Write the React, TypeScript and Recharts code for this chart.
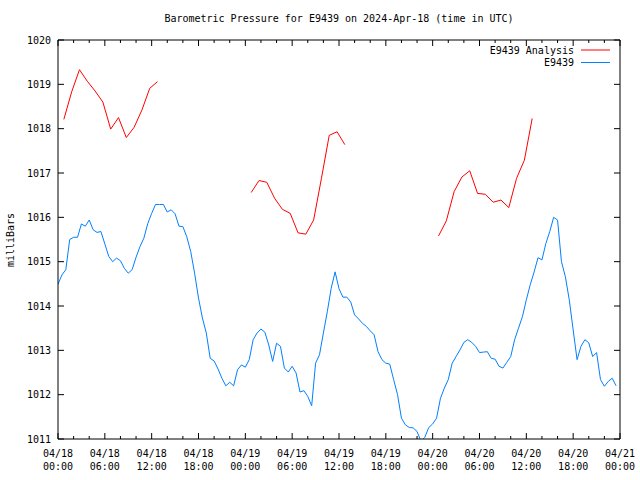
import React from "react";
import { LineChart, Line, XAxis, YAxis, Legend } from "recharts";

const FONT = "'DejaVu Sans Mono', monospace";
const RED = "#ff0000";
const BLUE = "#0080ff";

// observed pressure (mbar), every 30 min starting 04/18 00:00 UTC
const obsStepHours = 0.5;
const obsPressure = [
  1014.49, 1014.7, 1014.82, 1015.5, 1015.55, 1015.55, 1015.85, 1015.8, 1015.94, 1015.72,
  1015.66, 1015.68, 1015.4, 1015.12, 1015.0, 1015.08, 1015.02, 1014.85, 1014.74, 1014.82,
  1015.1, 1015.34, 1015.53, 1015.86, 1016.09, 1016.29, 1016.29, 1016.29, 1016.12, 1016.17,
  1016.08, 1015.8, 1015.79, 1015.56, 1015.23, 1014.74, 1014.18, 1013.73, 1013.39, 1012.82,
  1012.76, 1012.58, 1012.37, 1012.2, 1012.28, 1012.2, 1012.56, 1012.67, 1012.62, 1012.79,
  1013.24, 1013.39, 1013.48, 1013.41, 1013.12, 1012.75, 1013.16, 1013.09, 1012.6, 1012.51,
  1012.64, 1012.49, 1012.06, 1012.09, 1011.96, 1011.75, 1012.71, 1012.9, 1013.39, 1013.87,
  1014.4, 1014.77, 1014.39, 1014.2, 1014.2, 1014.09, 1013.8, 1013.71, 1013.61, 1013.54,
  1013.44, 1013.35, 1012.97, 1012.79, 1012.71, 1012.69, 1012.34, 1012.0, 1011.47, 1011.32,
  1011.26, 1011.25, 1011.17, 1010.95, 1011.04, 1011.26, 1011.34, 1011.47, 1011.92, 1012.15,
  1012.34, 1012.71, 1012.86, 1013.01, 1013.18, 1013.24, 1013.18, 1013.09, 1012.95, 1012.96,
  1012.97, 1012.82, 1012.8, 1012.64, 1012.6, 1012.73, 1012.86, 1013.24, 1013.5, 1013.76,
  1014.14, 1014.48, 1014.77, 1015.09, 1015.04, 1015.41, 1015.68, 1016.0, 1015.94, 1015.0,
  1014.66, 1014.14, 1013.46, 1012.79, 1013.09, 1013.24, 1013.17, 1012.86, 1012.95, 1012.34,
  1012.19, 1012.3, 1012.37, 1012.2,
];

// analysis runs, hourly from hh:45
const analysisStartHours = [0.75, 24.75, 48.75];
const analysisRun1 = [
  1018.21, 1018.83, 1019.33, 1019.07, 1018.85, 1018.6, 1017.99, 1018.25, 1017.8, 1018.03,
  1018.42, 1018.91, 1019.06,
];
const analysisRun2 = [
  1016.56, 1016.83, 1016.79, 1016.43, 1016.18, 1016.09, 1015.65, 1015.62, 1015.94, 1016.88,
  1017.85, 1017.93, 1017.64,
];
const analysisRun3 = [
  1015.58, 1015.92, 1016.58, 1016.91, 1017.05, 1016.54, 1016.52, 1016.34, 1016.39, 1016.22,
  1016.88, 1017.29, 1018.23,
];

const xTicks = [
  0, 2, 4, 6, 8, 10, 12, 14, 16, 18, 20, 22, 24, 26, 28, 30, 32, 34, 36, 38, 40, 42, 44, 46,
  48, 50, 52, 54, 56, 58, 60, 62, 64, 66, 68, 70, 72,
];
const tickDates = ["04/18", "04/18", "04/18", "04/18", "04/19", "04/19", "04/19", "04/19", "04/20", "04/20", "04/20", "04/20", "04/21"];
const tickTimes = ["00:00", "06:00", "12:00", "18:00", "00:00", "06:00", "12:00", "18:00", "00:00", "06:00", "12:00", "18:00", "00:00"];
const yTicks = [1011, 1012, 1013, 1014, 1015, 1016, 1017, 1018, 1019, 1020];
const legendOrder = ["E9439 Analysis", "E9439"];

const obsData = obsPressure.map((p, i) => ({ h: i * obsStepHours, p }));
const toRun = (vals: number[], start: number) => vals.map((p, i) => ({ h: start + i, p }));
const runs = [analysisRun1, analysisRun2, analysisRun3].map((r, i) => toRun(r, analysisStartHours[i]));

const textStyle = { fontFamily: FONT, fontSize: 10, fill: "#000" };

function BottomTick(props: any) {
  const { x, y, payload } = props;
  const h = payload.value;
  const major = h % 6 === 0;
  const i = h / 6;
  return (
    <g>
      <line x1={x} y1={y} x2={x} y2={y - (major ? 6 : 3)} stroke="#000" />
      {major && (
        <>
          <text x={x} y={y + 18} textAnchor="middle" style={textStyle}>{tickDates[i]}</text>
          <text x={x} y={y + 31} textAnchor="middle" style={textStyle}>{tickTimes[i]}</text>
        </>
      )}
    </g>
  );
}

function TopTick(props: any) {
  const { x, y, payload } = props;
  const major = payload.value % 6 === 0;
  return <line x1={x} y1={y} x2={x} y2={y + (major ? 6 : 3)} stroke="#000" />;
}

function LeftTick(props: any) {
  const { x, y, payload } = props;
  return (
    <g>
      <line x1={x} y1={y} x2={x + 6} y2={y} stroke="#000" />
      <text x={x - 7} y={y} dy="0.35em" textAnchor="end" style={textStyle}>{payload.value}</text>
    </g>
  );
}

function RightTick(props: any) {
  const { x, y } = props;
  return <line x1={x} y1={y} x2={x - 6} y2={y} stroke="#000" />;
}

function LegendBox(props: any) {
  const seen = new Set<string>();
  const items = (props.payload || [])
    .filter((p: any) => {
      if (p.type === "none" || seen.has(p.value)) return false;
      seen.add(p.value);
      return true;
    })
    .sort((a: any, b: any) => legendOrder.indexOf(a.value) - legendOrder.indexOf(b.value));
  return (
    <svg width={640} height={40} style={{ display: "block" }}>
      {items.map((it: any, i: number) => (
        <g key={it.value}>
          <text x={574} y={10 + i * 12.5} dy="0.35em" textAnchor="end" style={textStyle}>{it.value}</text>
          <line x1={581} x2={610} y1={10 + i * 12.5} y2={10 + i * 12.5} stroke={it.color} />
        </g>
      ))}
    </svg>
  );
}

export default function App() {
  return (
    <div style={{ position: "absolute", left: 0, top: 0, width: 640, height: 480, background: "#fff" }}>
      <LineChart width={640} height={480} margin={{ top: 39, right: 19, bottom: 0, left: 0 }}>
        <XAxis
          xAxisId="bottom"
          dataKey="h"
          type="number"
          domain={[0, 72]}
          ticks={xTicks}
          interval={0}
          height={41}
          tickSize={0}
          tickMargin={0}
          tickLine={false}
          axisLine={{ stroke: "#000" }}
          tick={<BottomTick />}
          allowDataOverflow
        />
        <XAxis
          xAxisId="top"
          orientation="top"
          dataKey="h"
          type="number"
          domain={[0, 72]}
          ticks={xTicks}
          interval={0}
          height={1}
          tickSize={0}
          tickMargin={0}
          tickLine={false}
          axisLine={{ stroke: "#000" }}
          tick={<TopTick />}
          allowDataOverflow
        />
        <YAxis
          yAxisId="left"
          type="number"
          domain={[1011, 1020]}
          ticks={yTicks}
          interval={0}
          width={58}
          tickSize={0}
          tickMargin={0}
          tickLine={false}
          axisLine={{ stroke: "#000" }}
          tick={<LeftTick />}
          allowDataOverflow
        />
        <YAxis
          yAxisId="right"
          orientation="right"
          type="number"
          domain={[1011, 1020]}
          ticks={yTicks}
          interval={0}
          width={1}
          tickSize={0}
          tickMargin={0}
          tickLine={false}
          axisLine={{ stroke: "#000" }}
          tick={<RightTick />}
          allowDataOverflow
        />
        <Legend
          layout="horizontal"
          verticalAlign="middle"
          align="center"
          wrapperStyle={{ top: 40, left: 0, width: 640, height: 40 }}
          content={<LegendBox />}
        />
        {runs.map((run, i) => (
          <Line
            key={`run${i}`}
            xAxisId="bottom"
            yAxisId="left"
            data={run}
            dataKey="p"
            name="E9439 Analysis"
            stroke={RED}
            strokeWidth={1}
            dot={false}
            activeDot={false}
            legendType={i === 0 ? "line" : "none"}
            isAnimationActive={false}
          />
        ))}
        <Line
          xAxisId="bottom"
          yAxisId="left"
          data={obsData}
          dataKey="p"
          name="E9439"
          stroke={BLUE}
          strokeWidth={1}
          dot={false}
          activeDot={false}
          isAnimationActive={false}
        />
      </LineChart>
      <svg width={640} height={480} style={{ position: "absolute", left: 0, top: 0, pointerEvents: "none" }}>
        <text x={339} y={22} textAnchor="middle" style={textStyle}>
          Barometric Pressure for E9439 on 2024-Apr-18 (time in UTC)
        </text>
        <text x={14} y={240} transform="rotate(-90 14 240)" textAnchor="middle" style={textStyle}>
          milliBars
        </text>
      </svg>
    </div>
  );
}
